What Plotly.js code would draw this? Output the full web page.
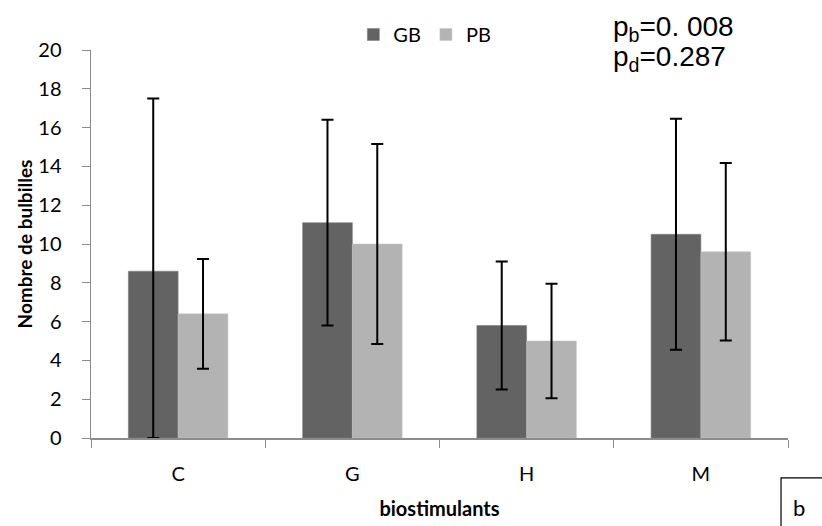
<!DOCTYPE html>
<html>
<head>
<meta charset="utf-8">
<script src="https://cdn.plot.ly/plotly-3.0.1.min.js"></script>
<style>html,body{margin:0;padding:0;background:#fff;}#chart{width:822px;height:526px;}</style>
</head>
<body>
<div id="chart"></div>
<script>
const categories = ["C", "G", "H", "M"];
const gbValues = [8.6, 11.1, 5.8, 10.5];
const gbErrPlus = [8.9, 5.3, 3.3, 5.95];
const gbErrMinus = [8.6, 5.3, 3.3, 5.95];
const pbValues = [6.4, 10.0, 5.0, 9.6];
const pbErr = [2.83, 5.15, 2.95, 4.57];
const yTicks = [0, 2, 4, 6, 8, 10, 12, 14, 16, 18, 20];

const FONT = "Lato, 'Open Sans', sans-serif";
const PFONT = "'Liberation Sans', Arial, sans-serif";
const errStyle = {color: "#000", thickness: 2, width: 6};

const traces = [
  {
    type: "bar", name: "GB", x: categories, y: gbValues,
    marker: {color: "#636363", line: {color: "#7a7a7a", width: 0.5}},
    error_y: Object.assign({type: "data", symmetric: false, array: gbErrPlus, arrayminus: gbErrMinus}, errStyle)
  },
  {
    type: "bar", name: "PB", x: categories, y: pbValues,
    marker: {color: "#b3b3b3", line: {color: "#c4c4c4", width: 0.5}},
    error_y: Object.assign({type: "data", array: pbErr}, errStyle)
  }
];

const layout = {
  width: 822, height: 526,
  margin: {l: 91, r: 34, t: 50, b: 88, autoexpand: false},
  paper_bgcolor: "#fff", plot_bgcolor: "#fff",
  barmode: "group", bargap: 0.4286, bargroupgap: 0,
  font: {family: FONT, size: 20, color: "#000"},
  showlegend: true,
  legend: {
    orientation: "h", x: 0.479, xanchor: "center", y: 1.04, yanchor: "middle",
    font: {family: FONT, size: 20}, itemwidth: 30, traceorder: "normal",
    bgcolor: "rgba(0,0,0,0)"
  },
  xaxis: {
    type: "category", tickson: "boundaries", ticks: "outside", ticklen: 8, tickcolor: "#8c8c8c",
    showline: true, linecolor: "#8c8c8c", linewidth: 1.5, showgrid: false, zeroline: false,
    ticklabelstandoff: 17,
    tickfont: {family: FONT, size: 20},
    title: {text: "<b>biostimulants</b>", font: {family: FONT, size: 20}, standoff: 18}
  },
  yaxis: {
    range: [0, 20], tickvals: yTicks, ticktext: yTicks.map(String),
    ticks: "outside", ticklen: 8, tickcolor: "#8c8c8c",
    showline: true, linecolor: "#8c8c8c", linewidth: 1.5, showgrid: false, zeroline: false,
    ticklabelstandoff: 16,
    tickfont: {family: FONT, size: 20},
    title: {text: "<b>Nombre de bulbilles</b>", font: {family: FONT, size: 19}, standoff: 0}
  },
  annotations: [
    {xref: "paper", yref: "paper", x: 0.746, y: 1.056, xanchor: "left", yanchor: "middle", showarrow: false,
     text: "p<sub>b</sub>=0. 008", font: {family: PFONT, size: 28}},
    {xref: "paper", yref: "paper", x: 0.746, y: 0.977, xanchor: "left", yanchor: "middle", showarrow: false,
     text: "p<sub>d</sub>=0.287", font: {family: PFONT, size: 28}},
    {xref: "paper", yref: "paper", x: 1.016, y: -0.18, xanchor: "center", yanchor: "middle", showarrow: false,
     text: "b", font: {family: FONT, size: 22}}
  ],
  shapes: [
    {type: "rect", xref: "paper", yref: "paper", x0: 0.99, x1: 1.2, y0: -0.103, y1: -0.3,
     line: {color: "#000", width: 1.2}, fillcolor: "rgba(0,0,0,0)"}
  ]
};

Plotly.newPlot("chart", traces, layout, {displayModeBar: false, staticPlot: true});
</script>
</body>
</html>
